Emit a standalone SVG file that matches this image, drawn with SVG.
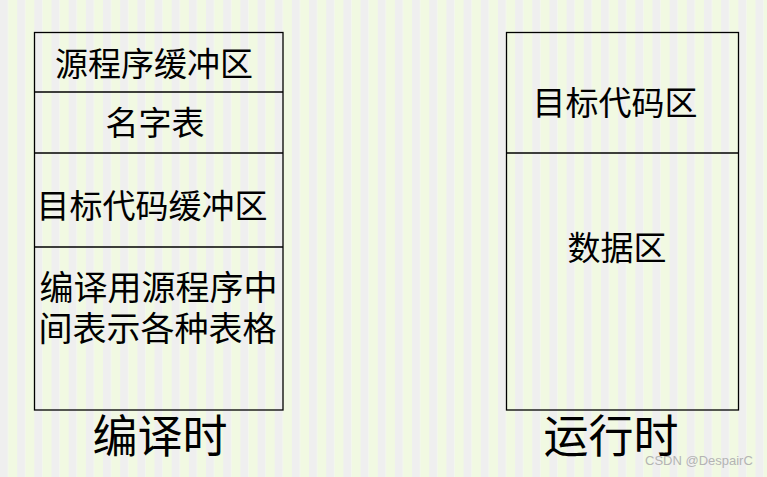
<svg xmlns="http://www.w3.org/2000/svg" width="767" height="477" viewBox="0 0 767 477">
<style>
.box{fill:none;stroke:#000;stroke-width:1.3}
.div{stroke:#000;stroke-width:1.3}
.t{font-family:"Noto Sans CJK SC","Noto Sans",sans-serif;font-size:33px;fill:#000;text-anchor:middle}
.big{font-size:45px}
.wm{font-family:"Liberation Sans",Arial,sans-serif;font-size:13px;fill:#b4b4b4}
</style>
<defs>
<pattern id="stripes" x="0" y="0" width="17.17" height="10" patternUnits="userSpaceOnUse">
<rect x="0" y="0" width="8.2" height="10" fill="#efefef"/>
<rect x="8.2" y="0" width="8.97" height="10" fill="#f1f9e2"/>
</pattern>
</defs>
<rect width="767" height="477" fill="url(#stripes)"/>
<g id="compile">
<rect class="box" x="34.5" y="32.5" width="248.5" height="377.5"/>
<line class="div" x1="34.5" y1="92" x2="283" y2="92"/>
<line class="div" x1="34.5" y1="153" x2="283" y2="153"/>
<line class="div" x1="34.5" y1="247" x2="283" y2="247"/>
</g>
<g id="n1"><text class="t" x="154" y="76">源程序缓冲区</text></g>
<g id="n2"><text class="t" x="155" y="135">名字表</text></g>
<g id="n3"><text class="t" x="152" y="218">目标代码缓冲区</text></g>
<g id="n4"><text class="t" style="font-size:34px"><tspan x="158.5" y="300">编译用源程序中</tspan><tspan x="157.5" y="341">间表示各种表格</tspan></text></g>
<g id="run">
<rect class="box" x="506.5" y="32.5" width="232" height="377.5"/>
<line class="div" x1="506.5" y1="153" x2="738.5" y2="153"/>
</g>
<g id="r1"><text class="t" x="615" y="115">目标代码区</text></g>
<g id="r2"><text class="t" x="617" y="260">数据区</text></g>
<g id="labels">
<text class="t big" x="160" y="453">编译时</text>
<text class="t big" x="611" y="453">运行时</text>
</g>
<g id="connectors"></g>
<text class="wm" x="645" y="465">CSDN @DespairC</text>
</svg>
